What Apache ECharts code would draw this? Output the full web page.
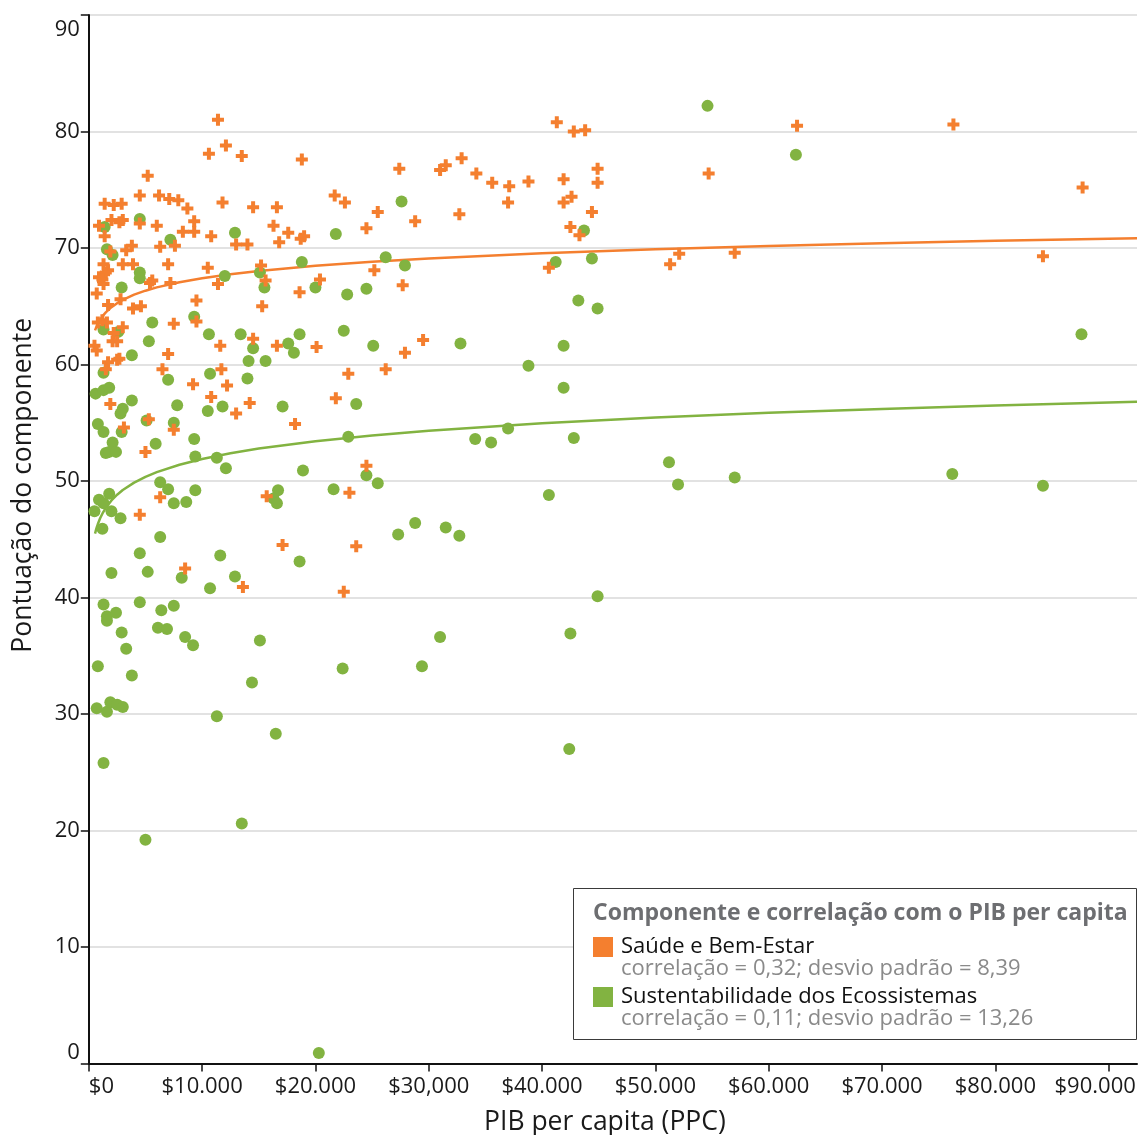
<!DOCTYPE html>
<html>
<head>
<meta charset="utf-8">
<script src="https://cdn.jsdelivr.net/npm/echarts@6/dist/echarts.min.js"></script>
<style>
  html, body { margin: 0; padding: 0; background: #ffffff; }
  #chart { width: 1139px; height: 1135px; }
</style>
</head>
<body>
<div id="chart"></div>
<script>
// GDP per capita (PPP) axis ticks and their printed labels
const gdpTicks = [0, 10000, 20000, 30000, 40000, 50000, 60000, 70000, 80000, 90000];
const gdpTickLabels = ['$0', '$10.000', '$20.000', '$30,000', '$40.000', '$50.000', '$60.000', '$70.000', '$80.000', '$90.000'];
const scoreTickLabels = ['0', '10', '20', '30', '40', '50', '60', '70', '80', '90'];

// Saúde e Bem-Estar: GDP per capita and component score per country
const saudeGdp = [
  11400, 12100, 10600, 13500, 18800, 5200, 4500, 6200, 7100, 7900,
  8700, 11800, 14500, 16600, 1400, 2200, 2900, 900, 2000, 2700,
  3000, 4500, 6000, 9300, 8300, 9300, 10800, 16300, 17600, 18700,
  19000, 1400, 13000, 14000, 16800, 1900, 3300, 3800, 6300, 7600,
  1300, 3000, 3900, 7000, 1700, 1500, 900, 1200, 1300, 700,
  5600, 5400, 7200, 10500, 11400, 15200, 15600, 20400, 18600, 15300,
  9500, 3900, 4600, 2800, 1700, 800, 1200, 1600, 3000, 7500,
  9500, 2200, 2100, 2500, 500, 700, 11600, 14500, 16600, 20100,
  7000, 1700, 2500, 2700, 1500, 6500, 11700, 9200, 12200, 10800,
  14200, 1900, 13000, 18200, 5300, 3100, 7500, 5000, 6300, 15700,
  4500, 17100, 8500, 13600, 41300, 42800, 43800, 32900, 27400, 31000,
  31500, 34200, 35600, 37100, 38800, 44900, 41900, 44900, 21700, 22600,
  25500, 42600, 41900, 37000, 32700, 44400, 28800, 24500, 42500, 43300,
  40600, 25200, 27700, 22900, 26200, 27900, 29500, 21800, 24500, 23000,
  23600, 22500, 62500, 76300, 54700, 87700, 52100, 51300, 57000, 84200
];
const saudeScore = [
  81.0, 78.8, 78.1, 77.9, 77.6, 76.2, 74.5, 74.5, 74.2, 74.1,
  73.4, 73.9, 73.5, 73.5, 73.8, 73.7, 73.8, 71.9, 72.4, 72.2,
  72.4, 72.1, 71.9, 72.3, 71.4, 71.4, 71.0, 71.9, 71.3, 70.8,
  71.0, 71.0, 70.3, 70.3, 70.5, 69.7, 69.8, 70.2, 70.1, 70.2,
  68.6, 68.6, 68.6, 68.6, 68.1, 67.9, 67.5, 67.3, 66.9, 66.1,
  67.2, 67.0, 67.0, 68.3, 66.9, 68.5, 67.2, 67.3, 66.2, 65.0,
  65.5, 64.8, 65.0, 65.6, 65.1, 63.6, 63.8, 63.6, 63.2, 63.5,
  63.7, 62.7, 62.0, 62.0, 61.6, 61.2, 61.6, 62.2, 61.6, 61.5,
  60.9, 60.2, 60.4, 60.5, 59.6, 59.6, 59.6, 58.3, 58.2, 57.2,
  56.7, 56.6, 55.8, 54.9, 55.3, 54.6, 54.4, 52.5, 48.6, 48.7,
  47.1, 44.5, 42.5, 40.9, 80.8, 80.0, 80.1, 77.7, 76.8, 76.7,
  77.1, 76.4, 75.6, 75.3, 75.7, 76.8, 75.9, 75.6, 74.5, 73.9,
  73.1, 74.4, 73.9, 73.9, 72.9, 73.1, 72.3, 71.7, 71.8, 71.1,
  68.3, 68.1, 66.8, 59.2, 59.6, 61.0, 62.1, 57.1, 51.3, 49.0,
  44.4, 40.5, 80.5, 80.6, 76.4, 75.2, 69.5, 68.6, 69.6, 69.3
];

// Sustentabilidade dos Ecossistemas: GDP per capita and component score per country
const ecoGdp = [
  1400, 4500, 7200, 12900, 1600, 2100, 4500, 4500, 2900, 12000,
  15100, 15500, 18800, 20000, 5600, 9300, 1300, 2600, 10600, 13400,
  18600, 5300, 14500, 17600, 18100, 3800, 14100, 15600, 1300, 10700,
  7000, 14000, 600, 1300, 1800, 3800, 3000, 2800, 7800, 10500,
  11800, 17100, 800, 1300, 5100, 7500, 2900, 2100, 5900, 9300,
  1500, 1800, 2400, 9400, 11300, 12100, 18900, 21600, 6300, 7000,
  9400, 1800, 900, 1300, 500, 2000, 2800, 7500, 8600, 16700,
  16300, 16600, 1200, 6300, 4500, 11600, 18600, 2000, 5200, 8200,
  12900, 10700, 1300, 4500, 1600, 1600, 2400, 6400, 7500, 2900,
  6100, 6900, 8500, 9200, 15100, 3300, 800, 3800, 14400, 700,
  1600, 1900, 2500, 3000, 11300, 16500, 1300, 13500, 5000, 27600,
  21800, 43700, 26200, 27900, 41200, 44400, 22800, 24500, 43200, 44900,
  22500, 25100, 32800, 41900, 38800, 41900, 23600, 22900, 34100, 35500,
  37000, 42800, 24500, 25500, 40600, 27300, 28800, 31500, 32700, 44900,
  42500, 31000, 29400, 22400, 42400, 20300, 54600, 62400, 87600, 51200,
  52000, 57000, 76200, 84200
];
const ecoScore = [
  71.8, 72.5, 70.7, 71.3, 69.9, 69.4, 67.9, 67.4, 66.6, 67.6,
  67.9, 66.6, 68.8, 66.6, 63.6, 64.1, 63.0, 62.8, 62.6, 62.6,
  62.6, 62.0, 61.4, 61.8, 61.0, 60.8, 60.3, 60.3, 59.3, 59.2,
  58.7, 58.8, 57.5, 57.8, 58.0, 56.9, 56.2, 55.8, 56.5, 56.0,
  56.4, 56.4, 54.9, 54.2, 55.2, 55.0, 54.2, 53.3, 53.2, 53.6,
  52.4, 52.5, 52.5, 52.1, 52.0, 51.1, 50.9, 49.3, 49.9, 49.3,
  49.2, 48.9, 48.4, 48.1, 47.4, 47.4, 46.8, 48.1, 48.2, 49.2,
  48.5, 48.1, 45.9, 45.2, 43.8, 43.6, 43.1, 42.1, 42.2, 41.7,
  41.8, 40.8, 39.4, 39.6, 38.4, 38.0, 38.7, 38.9, 39.3, 37.0,
  37.4, 37.3, 36.6, 35.9, 36.3, 35.6, 34.1, 33.3, 32.7, 30.5,
  30.2, 31.0, 30.8, 30.6, 29.8, 28.3, 25.8, 20.6, 19.2, 74.0,
  71.2, 71.5, 69.2, 68.5, 68.8, 69.1, 66.0, 66.5, 65.5, 64.8,
  62.9, 61.6, 61.8, 61.6, 59.9, 58.0, 56.6, 53.8, 53.6, 53.3,
  54.5, 53.7, 50.5, 49.8, 48.8, 45.4, 46.4, 46.0, 45.3, 40.1,
  36.9, 36.6, 34.1, 33.9, 27.0, 0.9, 82.2, 78.0, 62.6, 51.6,
  49.7, 50.3, 50.6, 49.6
];

// Logarithmic trend lines, score = intercept + slope * ln(GDP / 1000)
const saudeTrendCoef = [63.85, 1.545];
const ecoTrendCoef = [46.8, 2.21];
const trendGdp = [550, 600, 700, 800, 1000, 1250, 1500, 2000, 2500, 3000, 4000, 5000, 6000,
  8000, 10000, 12500, 15000, 20000, 25000, 30000, 40000, 50000, 60000, 70000, 80000, 92500];

const legendNotes = [
  'correlação = 0,32; desvio padrão = 8,39',
  'correlação = 0,11; desvio padrão = 13,26'
];

const ORANGE = '#f47f2f';
const GREEN = '#82b341';
const FONT = '"Open Sans", Lato, sans-serif';
const INK = '#1a1a1a';

const pairs = (xs, ys) => xs.map((x, i) => [x, ys[i]]);
const trend = (coef) => trendGdp.map(g => [g, coef[0] + coef[1] * Math.log(g / 1000)]);

const chart = echarts.init(document.getElementById('chart'), null, { renderer: 'canvas' });

chart.setOption({
  animation: false,
  backgroundColor: '#ffffff',
  textStyle: { fontFamily: FONT },
  grid: { left: 88.8, right: 2, top: 15, bottom: 71.5, outerBoundsMode: 'none', containLabel: false },
  xAxis: {
    type: 'value',
    min: 0,
    max: 92500,
    interval: 10000,
    name: 'PIB per capita (PPC)',
    nameLocation: 'middle',
    nameGap: 45,
    nameTextStyle: { fontSize: 26.5, color: INK, fontFamily: FONT, padding: [0, 16, 0, 0] },
    axisLine: { show: true, lineStyle: { color: '#111111', width: 2 } },
    axisTick: { show: true, length: 8, lineStyle: { color: '#111111', width: 1.5 }, customValues: gdpTicks },
    axisLabel: {
      customValues: gdpTicks,
      fontSize: 22,
      color: INK,
      fontFamily: FONT,
      margin: 12,
      alignMinLabel: 'left',
      formatter: (v) => {
        const i = Math.round(v / 10000);
        return i === gdpTicks.length - 1 ? '{last|' + gdpTickLabels[i] + '}' : gdpTickLabels[i];
      },
      rich: { last: { fontSize: 22, color: INK, fontFamily: FONT, padding: [0, 27, 0, 0] } }
    },
    splitLine: { show: false }
  },
  yAxis: {
    type: 'value',
    min: 0,
    max: 90,
    interval: 10,
    name: 'Pontuação do componente',
    nameLocation: 'middle',
    nameGap: 52,
    nameTextStyle: { fontSize: 26.5, color: INK, fontFamily: FONT, padding: [0, 0, 0, 108] },
    axisLine: { show: true, lineStyle: { color: '#111111', width: 2 } },
    axisTick: { show: true, length: 8, lineStyle: { color: '#111111', width: 1.5 } },
    axisLabel: {
      fontSize: 22,
      color: INK,
      fontFamily: FONT,
      margin: 9,
      verticalAlignMinLabel: 'bottom',
      verticalAlignMaxLabel: 'top',
      formatter: (v) => {
        const i = Math.round(v / 10);
        return i === scoreTickLabels.length - 1 ? '{top|' + scoreTickLabels[i] + '}' : scoreTickLabels[i];
      },
      rich: { top: { fontSize: 22, color: INK, fontFamily: FONT, padding: [4, 0, 0, 0] } }
    },
    splitLine: { show: true, lineStyle: { color: '#d9d9d9', width: 1.5 } }
  },
  legend: {
    data: ['Saúde e Bem-Estar', 'Sustentabilidade dos Ecossistemas'],
    orient: 'vertical',
    left: 593,
    top: 934,
    padding: 0,
    itemWidth: 20,
    itemHeight: 20,
    itemGap: 24,
    icon: 'rect',
    z: 20,
    selectedMode: false,
    textStyle: { fontSize: 22, color: '#111111', fontFamily: FONT, lineHeight: 26, padding: [0, 0, 0, 3] }
  },
  graphic: [
    {
      type: 'rect', z: 10,
      shape: { x: 573.5, y: 888.5, width: 563, height: 151 },
      style: { fill: '#ffffff', stroke: '#3a3a3a', lineWidth: 1 }
    },
    {
      type: 'text', z: 20, x: 593, y: 913,
      style: { text: 'Componente e correlação com o PIB per capita', fontSize: 23, fontWeight: 'bold',
               fill: '#6d6e71', fontFamily: FONT, verticalAlign: 'middle' }
    },
    {
      type: 'text', z: 20, x: 621, y: 969,
      style: { text: legendNotes[0], fontSize: 22, fill: '#8a8a8a', fontFamily: FONT, verticalAlign: 'middle' }
    },
    {
      type: 'text', z: 20, x: 621, y: 1019,
      style: { text: legendNotes[1], fontSize: 22, fill: '#8a8a8a', fontFamily: FONT, verticalAlign: 'middle' }
    }
  ],
  series: [
    {
      name: 'Tendência Saúde e Bem-Estar',
      type: 'line',
      data: trend(saudeTrendCoef),
      showSymbol: false,
      silent: true,
      z: 1,
      lineStyle: { color: ORANGE, width: 2.5 },
      itemStyle: { color: ORANGE }
    },
    {
      name: 'Tendência Sustentabilidade dos Ecossistemas',
      type: 'line',
      data: trend(ecoTrendCoef),
      showSymbol: false,
      silent: true,
      z: 1,
      lineStyle: { color: GREEN, width: 2.5 },
      itemStyle: { color: GREEN }
    },
    {
      name: 'Sustentabilidade dos Ecossistemas',
      type: 'scatter',
      data: pairs(ecoGdp, ecoScore),
      symbol: 'circle',
      symbolSize: 12,
      z: 3,
      itemStyle: { color: GREEN, opacity: 1 }
    },
    {
      name: 'Saúde e Bem-Estar',
      type: 'scatter',
      data: pairs(saudeGdp, saudeScore),
      symbol: 'path://M4,0H8V4H12V8H8V12H4V8H0V4H4Z',
      symbolSize: 12,
      z: 4,
      itemStyle: { color: ORANGE, opacity: 1 }
    }
  ]
});
</script>
</body>
</html>
